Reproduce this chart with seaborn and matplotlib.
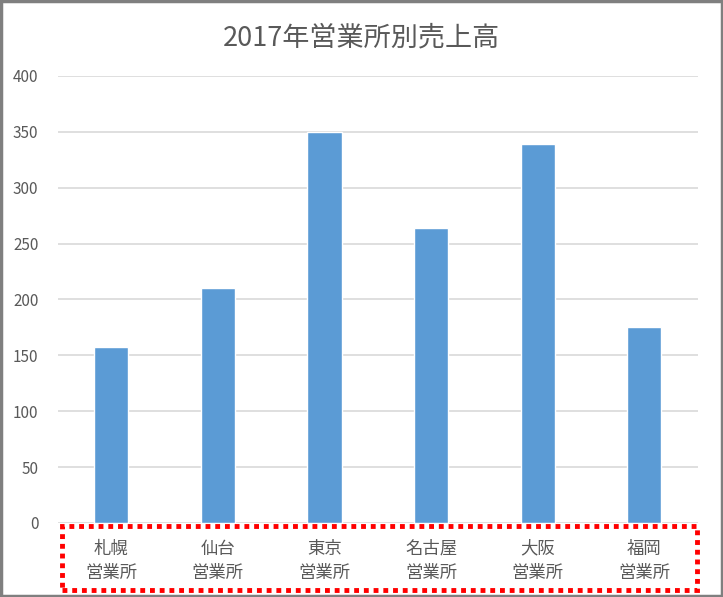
import pandas as pd
import matplotlib.pyplot as plt
import matplotlib.patches as patches
import seaborn as sns

# Chart data
offices = ['札幌\n営業所', '仙台\n営業所', '東京\n営業所', '名古屋\n営業所', '大阪\n営業所', '福岡\n営業所']
sales = [157, 210, 350, 264, 339, 175]
y_ticks = [0, 50, 100, 150, 200, 250, 300, 350, 400]


def create_chart():
    sns.set_theme(style='white')
    plt.rcParams['font.family'] = ['Noto Sans CJK JP', 'DejaVu Sans']

    df = pd.DataFrame({'office': offices, 'sales': sales})

    fig = plt.figure(figsize=(7.23, 5.97), dpi=100)
    ax = fig.add_axes([0.080, 0.124, 0.885, 0.749])

    sns.barplot(data=df, x='office', y='sales', ax=ax, color='#5B9BD5',
                saturation=1, width=0.32, zorder=3)

    ax.set_ylim(0, 400)
    ax.set_yticks(y_ticks)
    ax.yaxis.grid(True, color='#d9d9d9', linewidth=1.2, zorder=0)
    ax.set_axisbelow(True)
    for side in ['top', 'right', 'left', 'bottom']:
        ax.spines[side].set_visible(False)
    ax.tick_params(axis='y', length=0, pad=14, labelsize=11, labelcolor='#595959')
    ax.tick_params(axis='x', length=0, pad=12, labelsize=12.5, labelcolor='#595959')
    for lbl in ax.get_xticklabels():
        lbl.set_linespacing(1.45)
    ax.set_xlabel('')
    ax.set_ylabel('')

    fig.text(0.5, 0.937, '2017年営業所別売上高', ha='center', va='center',
             fontsize=19.5, color='#595959')

    # Outer gray frame
    fig.patches.append(patches.Rectangle((0.001, 0.001), 0.997, 0.997,
                                         transform=fig.transFigure, fill=False,
                                         edgecolor='#7f7f7f', linewidth=2.5))
    # Red dotted highlight around category labels
    fig.patches.append(patches.Rectangle((62 / 723, 1 - 590 / 597),
                                         (697 - 62) / 723, (590 - 526) / 597,
                                         transform=fig.transFigure, fill=False,
                                         edgecolor='#ff0000', linewidth=3.5,
                                         linestyle=(0, (1, 1))))
    return fig


def main():
    fig = create_chart()
    fig.savefig('out.png', dpi=100)


if __name__ == "__main__":
    main()
